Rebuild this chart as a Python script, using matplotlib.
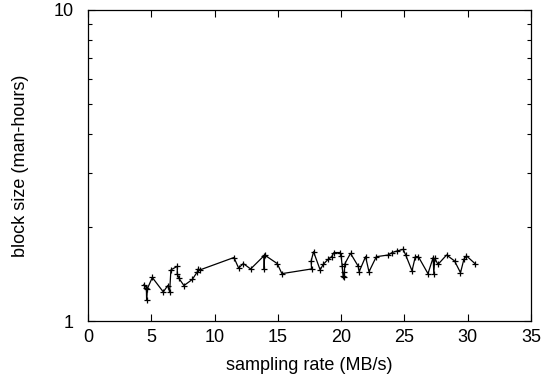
import matplotlib
matplotlib.use("Agg")
import matplotlib.pyplot as plt
from matplotlib.ticker import FixedLocator, NullFormatter, FixedFormatter

plt.rcParams['font.family'] = ['Liberation Sans', 'DejaVu Sans']

x_vals = [4.42, 4.61, 4.63, 4.69, 5.08, 5.95, 6.30, 6.45, 6.55, 7.06, 7.05, 7.19, 7.58,
          8.24, 8.64, 8.70, 8.85, 11.53, 11.9, 12.27, 12.85, 13.9, 13.92, 13.95, 14.95,
          15.32, 17.66, 17.63, 17.82, 18.34, 18.58, 18.98, 19.25, 19.43, 19.9, 20.0,
          20.08, 20.15, 20.2, 20.25, 20.3, 20.74, 21.35, 21.42, 21.93, 22.2, 22.78,
          23.72, 24.03, 24.43, 24.9, 25.1, 25.6, 25.86, 26.1, 26.86, 27.27, 27.32,
          27.4, 27.65, 28.33, 28.96, 29.43, 29.7, 29.9, 30.57]
y_vals = [1.31, 1.28, 1.17, 1.27, 1.38, 1.24, 1.30, 1.24, 1.46, 1.50, 1.42, 1.37, 1.30,
          1.36, 1.44, 1.47, 1.46, 1.60, 1.48, 1.53, 1.47, 1.62, 1.47, 1.63, 1.53,
          1.42, 1.47, 1.56, 1.67, 1.46, 1.52, 1.58, 1.61, 1.66, 1.66, 1.62,
          1.50, 1.40, 1.38, 1.44, 1.53, 1.65, 1.50, 1.44, 1.61, 1.44, 1.61,
          1.63, 1.66, 1.68, 1.70, 1.63, 1.45, 1.61, 1.61, 1.42, 1.60, 1.42,
          1.59, 1.52, 1.63, 1.56, 1.43, 1.58, 1.62, 1.53]

x_ticks = [0, 5, 10, 15, 20, 25, 30, 35]
y_ticks = [1, 10]
y_tick_labels = ["1", "10"]

fig = plt.figure(figsize=(5.45, 3.87), dpi=100)
ax = fig.add_axes([88/545, 1-321/387, (531-88)/545, (321-10)/387])

ax.plot(x_vals, y_vals, color='black', linewidth=0.9, marker='+', markersize=5,
        markeredgewidth=0.9)

ax.set_yscale('log')
ax.set_xlim(0, 35)
ax.set_ylim(1, 10)
ax.set_xticks(x_ticks)
ax.xaxis.set_major_formatter(FixedFormatter([str(t) for t in x_ticks]))
ax.yaxis.set_major_locator(FixedLocator(y_ticks))
ax.yaxis.set_major_formatter(FixedFormatter(y_tick_labels))
ax.yaxis.set_minor_locator(FixedLocator([2, 3, 4, 5, 6, 7, 8, 9]))
ax.yaxis.set_minor_formatter(NullFormatter())

ax.tick_params(which='both', direction='in', top=True, right=True, labelsize=13,
               width=0.8)
ax.tick_params(axis='y', pad=10)
ax.tick_params(axis='x', pad=6)
ax.tick_params(which='major', length=5)
ax.tick_params(which='minor', length=3)
for s in ax.spines.values():
    s.set_linewidth(0.9)

ax.set_xlabel("sampling rate (MB/s)", fontsize=13, labelpad=8)
ax.set_ylabel("block size (man-hours)", fontsize=13, labelpad=18)

fig.savefig("out.png", dpi=100)
